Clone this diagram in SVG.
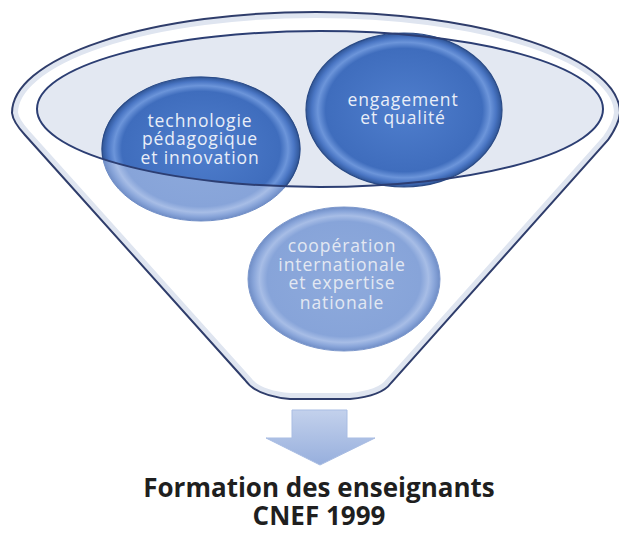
<svg xmlns="http://www.w3.org/2000/svg" width="619" height="533" viewBox="0 0 619 533">
<style>
.lbl{font-family:"Open Sans","Liberation Sans",sans-serif;font-size:17.5px;letter-spacing:0.9px;text-anchor:middle;fill:#e9eef8}
.lbl3{fill:#e3e8f2}
.title{font-family:"Open Sans","Liberation Sans",sans-serif;font-size:26px;font-weight:bold;text-anchor:middle;fill:#1f1f1f}
</style>
<defs>
<clipPath id="funnelClip"><path d="M 245,380 L 25,135 Q 13,122 12,113 A 304 101 0 0 1 620,113 Q 619,124 608,140 L 391,383 Q 382,396 350,399 L 290,399 Q 256,396 245,380 Z"/></clipPath>
<clipPath id="innerClip"><ellipse cx="320" cy="109" rx="283" ry="78"/></clipPath>
<radialGradient id="gDark" cx="50%" cy="50%" r="50%">
<stop offset="0" stop-color="#4f7ecd"/>
<stop offset="0.8" stop-color="#3f6dbd"/>
<stop offset="0.88" stop-color="#6c95da"/>
<stop offset="0.94" stop-color="#4a76c4"/>
<stop offset="1" stop-color="#2f5597"/>
</radialGradient>
<radialGradient id="gLight" cx="50%" cy="50%" r="50%">
<stop offset="0" stop-color="#8eaadc"/>
<stop offset="0.8" stop-color="#87a4d9"/>
<stop offset="0.88" stop-color="#a7bde6"/>
<stop offset="0.94" stop-color="#8aa6da"/>
<stop offset="1" stop-color="#6f8dc6"/>
</radialGradient>
<linearGradient id="gArrow" x1="0" y1="0" x2="0" y2="1">
<stop offset="0" stop-color="#c3d1ec"/>
<stop offset="1" stop-color="#97afdd"/>
</linearGradient>
</defs>
<rect width="619" height="533" fill="#ffffff"/>

<g id="funnel">
<path d="M 245,380 L 25,135 Q 13,122 12,113 A 304 101 0 0 1 620,113 Q 619,124 608,140 L 391,383 Q 382,396 350,399 L 290,399 Q 256,396 245,380 Z" fill="#ffffff"/>
<path d="M 245,380 L 25,135 Q 13,122 12,113 A 304 101 0 0 1 620,113 Q 619,124 608,140 L 391,383 Q 382,396 350,399 L 290,399 Q 256,396 245,380 Z" fill="none" stroke="#dfe5f0" stroke-width="12" clip-path="url(#funnelClip)"/>
<path d="M 245,380 L 25,135 Q 13,122 12,113 A 304 101 0 0 1 620,113 Q 619,124 608,140 L 391,383 Q 382,396 350,399 L 290,399 Q 256,396 245,380 Z" fill="none" stroke="#2f3d6b" stroke-width="2"/>
</g>

<g id="inner-ellipse-fill">
<ellipse cx="320" cy="109" rx="283" ry="78" fill="#e3e8f2"/>
</g>

<g id="node-technologie">
<ellipse cx="201" cy="149" rx="99" ry="72" fill="url(#gLight)" stroke="#6f8dc6" stroke-width="1"/>
<ellipse cx="201" cy="149" rx="99" ry="72" fill="url(#gDark)" stroke="#2b4b86" stroke-width="1.2" clip-path="url(#innerClip)"/>
<text class="lbl"><tspan x="200" y="127">technologie</tspan><tspan x="200" y="145">pédagogique</tspan><tspan x="200" y="164">et innovation</tspan></text>
</g>

<g id="node-engagement">
<ellipse cx="404" cy="110" rx="98" ry="77" fill="url(#gDark)" stroke="#2b4b86" stroke-width="1.2"/>
<text class="lbl"><tspan x="403" y="106">engagement</tspan><tspan x="403" y="124">et qualité</tspan></text>
</g>

<g id="inner-ellipse-outline">
<ellipse cx="320" cy="109" rx="283" ry="78" fill="none" stroke="#2c3e73" stroke-width="2"/>
</g>

<g id="node-cooperation">
<ellipse cx="344" cy="279" rx="96" ry="72" fill="url(#gLight)" stroke="#7d98cc" stroke-width="1"/>
<text class="lbl lbl3"><tspan x="342" y="252">coopération</tspan><tspan x="342" y="271">internationale</tspan><tspan x="342" y="289">et expertise</tspan><tspan x="342" y="309">nationale</tspan></text>
</g>

<g id="connectors">
<path d="M 292,410 L 347,410 L 347,438 L 375,438 L 320,465 L 266,438 L 292,438 Z" fill="url(#gArrow)" stroke="#a9bde3" stroke-width="1"/>
</g>

<g id="node-formation">
<text class="title" x="319" y="497">Formation des enseignants</text>
<text class="title" x="319" y="525">CNEF 1999</text>
</g>
</svg>
